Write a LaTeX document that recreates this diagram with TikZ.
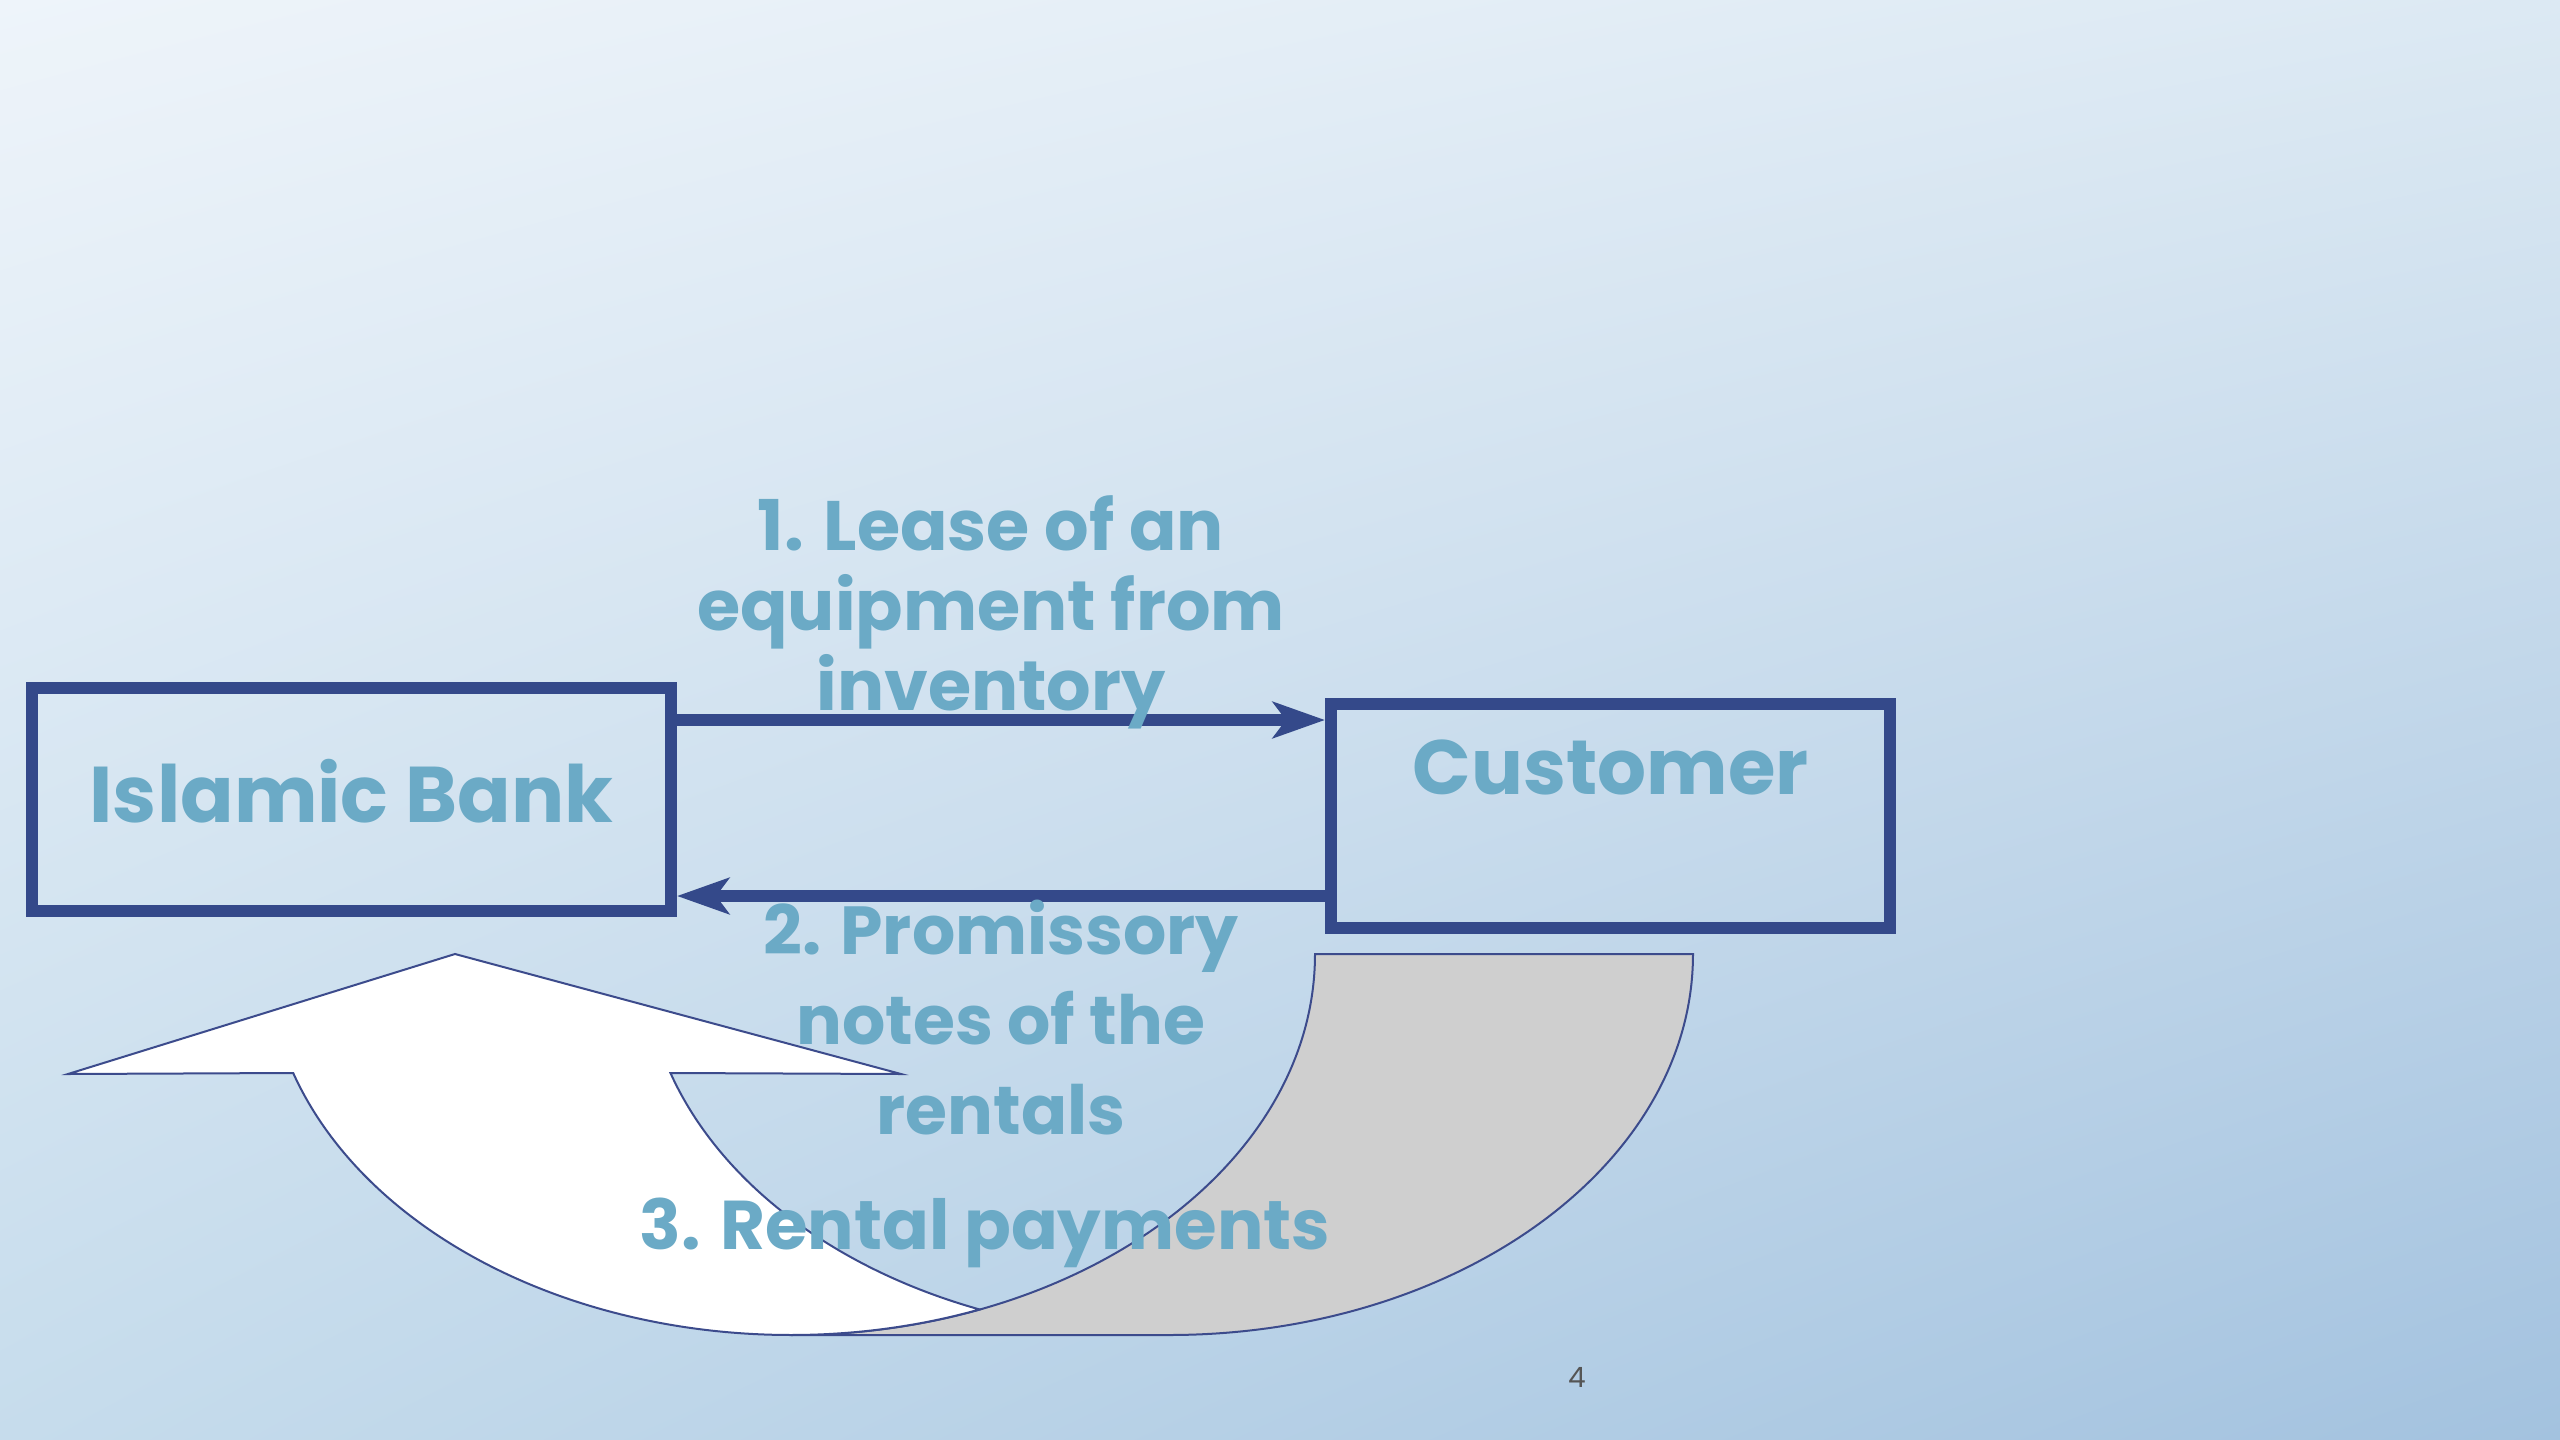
\documentclass[tikz,border=0pt]{standalone}
\usepackage{fontspec}
\setmainfont{Poppins}
\usetikzlibrary{arrows.meta,shadings}
\definecolor{bgUL}{RGB}{238,244,250}
\definecolor{bgUR}{RGB}{220,233,243}
\definecolor{bgLL}{RGB}{198,220,236}
\definecolor{bgLR}{RGB}{163,194,223}
\definecolor{navy}{RGB}{52,73,138}
\definecolor{txtblue}{RGB}{107,170,198}
\definecolor{shapeline}{RGB}{60,75,140}
\definecolor{backgray}{RGB}{207,207,207}
\definecolor{pagegray}{RGB}{85,85,85}
\begin{document}
\begin{tikzpicture}[x=1pt,y=1pt,
  box/.style={draw=navy, line width=12pt, inner sep=0pt, text=txtblue},
  flow/.style={draw=navy, line width=12pt,
    -{Stealth[length=52pt,width=36pt,inset=13pt]}},
  lbl/.style={text=txtblue, align=center, inner sep=0pt, anchor=base},
  ushape/.style={draw=shapeline, line width=2pt, line join=miter}]
\shade[upper left=bgUL, upper right=bgUR, lower left=bgLL, lower right=bgLR]
  (0,0) rectangle (2560,-1440);
\useasboundingbox (0,0) rectangle (2560,-1440);

% curved up arrow (back part, gray)
\path[ushape, fill=backgray] (1315,-954) -- (1693,-954)
  arc[start angle=0, end angle=-90, x radius=524pt, y radius=381pt]
  -- (791,-1335)
  arc[start angle=-90, end angle=0, x radius=524pt, y radius=381pt]
  -- cycle;
% front part, white
\path[ushape, fill=white] (293.2,-1073)
  arc[start angle=198.2, end angle=291.1, x radius=524pt, y radius=381pt]
  arc[start angle=248.9, end angle=198.2, x radius=524pt, y radius=381pt]
  -- (901,-1074) -- (455,-954) -- (68,-1074) -- cycle;

\node[box, font=\bfseries\fontsize{79}{95}\selectfont,
  minimum width=639pt, minimum height=223pt,
  text height=134pt, text depth=89pt] (bank) at (351.5,-799.5) {Islamic Bank};
\node[box, font=\bfseries\fontsize{77}{92}\selectfont,
  minimum width=559pt, minimum height=224pt,
  text height=90pt, text depth=134pt] (cust) at (1610.5,-816) {Customer};

\draw[flow] (bank.east |- 0,-720) -- (cust.west |- 0,-720);
\draw[flow] (cust.west |- 0,-896) -- (bank.east |- 0,-896);

\node[lbl, font=\bfseries\fontsize{70}{80}\selectfont] (lease) at (991,-710)
  {1. Lease of an\\equipment from\\inventory};
\node[lbl, font=\bfseries\fontsize{68}{90}\selectfont] (notes) at (1001,-1134)
  {2. Promissory\\notes of the\\rentals};
\node[lbl, font=\bfseries\fontsize{69}{84}\selectfont] (rent) at (985,-1249)
  {3. Rental payments};
\node[anchor=base, inner sep=0pt, text=pagegray, font=\fontsize{28}{34}\selectfont]
  (pg) at (1577,-1387) {4};
\end{tikzpicture}
\end{document}
